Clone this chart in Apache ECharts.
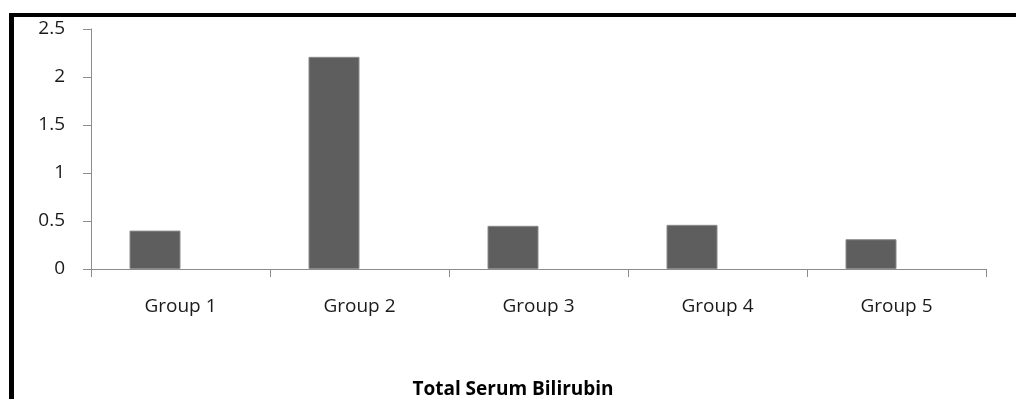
<!DOCTYPE html>
<html>
<head>
<meta charset="utf-8">
<script src="https://cdn.jsdelivr.net/npm/echarts@6/dist/echarts.min.js"></script>
<style>
  html, body { margin: 0; padding: 0; background: #fff; }
  #frame {
    position: absolute; left: 9px; top: 13px; width: 1100px; height: 500px;
    border-left: 5px solid #000; border-top: 4px solid #000;
    box-sizing: border-box;
  }
  #chart { position: absolute; left: 0; top: 0; width: 1016px; height: 399px; }
</style>
</head>
<body>
<div id="frame"></div>
<div id="chart"></div>
<script>
// Total serum bilirubin per group
const categories = ['Group 1', 'Group 2', 'Group 3', 'Group 4', 'Group 5'];
const bilirubin = [0.40, 2.21, 0.45, 0.46, 0.31];
const emptySeries = [null, null, null, null, null];
const yTicks = { min: 0, max: 2.5, interval: 0.5 };
const chartTitle = 'Total Serum Bilirubin';

const axisColor = '#8c8c8c';
const font = '"Open Sans", "Noto Sans", sans-serif';

const chart = echarts.init(document.getElementById('chart'), null, { renderer: 'canvas' });
chart.setOption({
  animation: false,
  backgroundColor: 'transparent',
  title: {
    text: chartTitle,
    left: 508, top: 375, textAlign: 'center',
    textStyle: { fontFamily: font, fontSize: 19, fontWeight: 'bold', color: '#000' }
  },
  grid: { left: 91, right: 30, top: 29, bottom: 130, containLabel: false },
  xAxis: {
    type: 'category',
    data: categories,
    boundaryGap: true,
    axisLine: { show: true, lineStyle: { color: axisColor, width: 1 } },
    axisTick: { show: true, length: 8, alignWithLabel: false, lineStyle: { color: axisColor } },
    axisLabel: { margin: 28, fontFamily: font, fontSize: 19, color: '#1a1a1a' },
    splitLine: { show: false }
  },
  yAxis: {
    type: 'value',
    min: yTicks.min, max: yTicks.max, interval: yTicks.interval,
    axisLine: { show: true, lineStyle: { color: axisColor, width: 1 } },
    axisTick: { show: true, length: 8, inside: false, lineStyle: { color: axisColor } },
    axisLabel: { margin: 26, fontFamily: font, fontSize: 19, color: '#1a1a1a' },
    splitLine: { show: false }
  },
  series: [
    {
      type: 'bar',
      data: bilirubin,
      barWidth: 51,
      barGap: '0%',
      itemStyle: { color: '#5e5e5e', borderColor: '#8a8a8a', borderWidth: 1 }
    },
    {
      type: 'bar',
      data: emptySeries,
      barWidth: 51,
      barGap: '0%'
    }
  ]
});
</script>
</body>
</html>
